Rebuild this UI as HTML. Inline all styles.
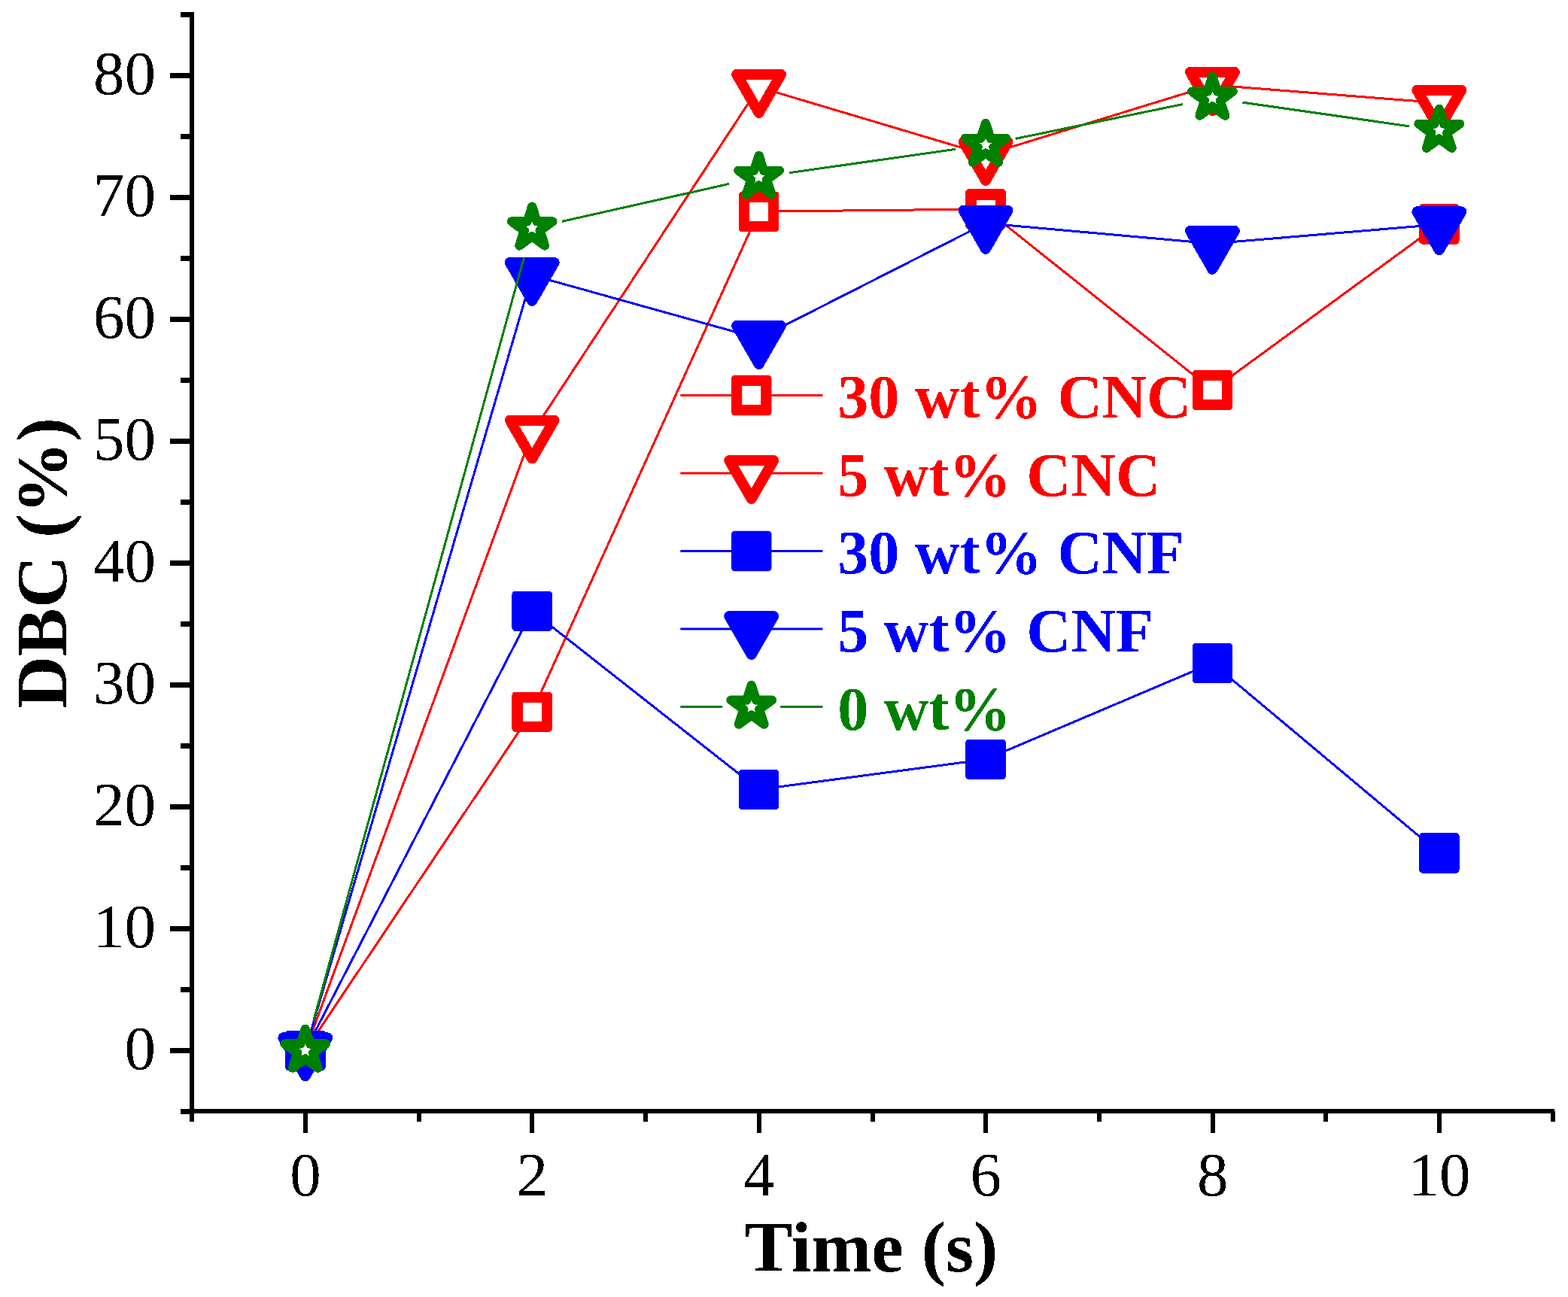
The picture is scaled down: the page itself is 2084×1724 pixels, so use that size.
<!DOCTYPE html>
<html><head><meta charset="utf-8"><title>DBC vs Time</title>
<style>html,body{margin:0;padding:0;background:#fff;}svg{display:block;}
text{font-family:"Liberation Serif","Times New Roman",serif;}</style></head>
<body>
<svg width="2084" height="1724" viewBox="0 0 2084 1724">
<defs><filter id="bin" x="-5%" y="-5%" width="110%" height="110%" color-interpolation-filters="sRGB"><feComponentTransfer><feFuncA type="discrete" tableValues="0 1"/></feComponentTransfer></filter></defs>
<rect width="2084" height="1724" fill="#fff"/>
<g font-size="82.2" font-weight="bold" filter="url(#bin)"><text x="1113.2" y="554.9" fill="#ff0000">30 wt% CNC</text><text x="1113.2" y="658.6" fill="#ff0000">5 wt% CNC</text><text x="1113.2" y="762.3" fill="#0000ff">30 wt% CNF</text><text x="1113.2" y="866" fill="#0000ff">5 wt% CNF</text><text x="1113.2" y="969.7" fill="#008000">0 wt%</text></g>
<g><line x1="904.3" y1="525.5" x2="1093.4" y2="525.5" stroke="#ff0000" stroke-width="3"/><rect x="971.95" y="498.75" width="53.5" height="53.5" rx="4.5" fill="#ff0000"/><rect x="986.2" y="513" width="25" height="25" fill="#fff"/><line x1="904.3" y1="629" x2="1093.4" y2="629" stroke="#ff0000" stroke-width="3"/><path d="M969.26 612 L1028.14 612 L998.7 663Z" fill="#fff" stroke="#ff0000" stroke-width="14" stroke-linejoin="round"/><line x1="904.3" y1="732.5" x2="1093.4" y2="732.5" stroke="#0000ff" stroke-width="3"/><rect x="971.95" y="705.75" width="53.5" height="53.5" rx="4.5" fill="#0000ff"/><line x1="904.3" y1="836" x2="1093.4" y2="836" stroke="#0000ff" stroke-width="3"/><path d="M969.26 819 L1028.14 819 L998.7 870Z" fill="#0000ff" stroke="#0000ff" stroke-width="14" stroke-linejoin="round"/><line x1="904.3" y1="939.5" x2="960.2" y2="939.5" stroke="#008000" stroke-width="3"/><line x1="1037.2" y1="939.5" x2="1093.4" y2="939.5" stroke="#008000" stroke-width="3"/><path d="M998.7 910.8 L1005.14 930.63 L1026 930.63 L1009.13 942.89 L1015.57 962.72 L998.7 950.46 L981.83 962.72 L988.27 942.89 L971.4 930.63 L992.26 930.63Z" fill="#fff" stroke="#008000" stroke-width="12.2" stroke-linejoin="round"/></g>
<g shape-rendering="crispEdges"><polyline points="405.8,1396.3 707.2,946.3 1008.6,281.2 1310,278 1611.4,518.5 1912.8,297.9" fill="none" stroke="#ff0000" stroke-width="3" stroke-linejoin="round"/><rect x="379.05" y="1369.55" width="53.5" height="53.5" rx="4.5" fill="#ff0000"/><rect x="393.3" y="1383.8" width="25" height="25" fill="#fff"/><rect x="680.45" y="919.55" width="53.5" height="53.5" rx="4.5" fill="#ff0000"/><rect x="694.7" y="933.8" width="25" height="25" fill="#fff"/><rect x="981.85" y="254.45" width="53.5" height="53.5" rx="4.5" fill="#ff0000"/><rect x="996.1" y="268.7" width="25" height="25" fill="#fff"/><rect x="1283.25" y="251.25" width="53.5" height="53.5" rx="4.5" fill="#ff0000"/><rect x="1297.5" y="265.5" width="25" height="25" fill="#fff"/><rect x="1584.65" y="491.75" width="53.5" height="53.5" rx="4.5" fill="#ff0000"/><rect x="1598.9" y="506" width="25" height="25" fill="#fff"/><rect x="1886.05" y="271.15" width="53.5" height="53.5" rx="4.5" fill="#ff0000"/><rect x="1900.3" y="285.4" width="25" height="25" fill="#fff"/><polyline points="405.8,1396.3 707.2,575.5 1008.6,115.9 1310,205.8 1611.4,112.9 1912.8,136.8" fill="none" stroke="#ff0000" stroke-width="3" stroke-linejoin="round"/><path d="M376.36 1379.3 L435.24 1379.3 L405.8 1430.3Z" fill="#fff" stroke="#ff0000" stroke-width="14" stroke-linejoin="round"/><path d="M677.76 558.5 L736.64 558.5 L707.2 609.5Z" fill="#fff" stroke="#ff0000" stroke-width="14" stroke-linejoin="round"/><path d="M979.16 98.9 L1038.04 98.9 L1008.6 149.9Z" fill="#fff" stroke="#ff0000" stroke-width="14" stroke-linejoin="round"/><path d="M1280.56 188.8 L1339.44 188.8 L1310 239.8Z" fill="#fff" stroke="#ff0000" stroke-width="14" stroke-linejoin="round"/><path d="M1581.96 95.9 L1640.84 95.9 L1611.4 146.9Z" fill="#fff" stroke="#ff0000" stroke-width="14" stroke-linejoin="round"/><path d="M1883.36 119.8 L1942.24 119.8 L1912.8 170.8Z" fill="#fff" stroke="#ff0000" stroke-width="14" stroke-linejoin="round"/><polyline points="405.8,1396.3 707.2,812.3 1008.6,1049.4 1310,1009.4 1611.4,881.4 1912.8,1133.9" fill="none" stroke="#0000ff" stroke-width="3" stroke-linejoin="round"/><rect x="379.05" y="1369.55" width="53.5" height="53.5" rx="4.5" fill="#0000ff"/><rect x="680.45" y="785.55" width="53.5" height="53.5" rx="4.5" fill="#0000ff"/><rect x="981.85" y="1022.65" width="53.5" height="53.5" rx="4.5" fill="#0000ff"/><rect x="1283.25" y="982.65" width="53.5" height="53.5" rx="4.5" fill="#0000ff"/><rect x="1584.65" y="854.65" width="53.5" height="53.5" rx="4.5" fill="#0000ff"/><rect x="1886.05" y="1107.15" width="53.5" height="53.5" rx="4.5" fill="#0000ff"/><polyline points="405.8,1396.3 707.2,365.9 1008.6,449.9 1310,296.75 1611.4,323.8 1912.8,298.3" fill="none" stroke="#0000ff" stroke-width="3" stroke-linejoin="round"/><path d="M376.36 1379.3 L435.24 1379.3 L405.8 1430.3Z" fill="#0000ff" stroke="#0000ff" stroke-width="14" stroke-linejoin="round"/><path d="M677.76 348.9 L736.64 348.9 L707.2 399.9Z" fill="#0000ff" stroke="#0000ff" stroke-width="14" stroke-linejoin="round"/><path d="M979.16 432.9 L1038.04 432.9 L1008.6 483.9Z" fill="#0000ff" stroke="#0000ff" stroke-width="14" stroke-linejoin="round"/><path d="M1280.56 279.75 L1339.44 279.75 L1310 330.75Z" fill="#0000ff" stroke="#0000ff" stroke-width="14" stroke-linejoin="round"/><path d="M1581.96 306.8 L1640.84 306.8 L1611.4 357.8Z" fill="#0000ff" stroke="#0000ff" stroke-width="14" stroke-linejoin="round"/><path d="M1883.36 281.3 L1942.24 281.3 L1912.8 332.3Z" fill="#0000ff" stroke="#0000ff" stroke-width="14" stroke-linejoin="round"/><line x1="416.57" y1="1357.36" x2="696.43" y2="342.34" stroke="#008000" stroke-width="3"/><line x1="746.71" y1="294.41" x2="969.09" y2="244.39" stroke="#008000" stroke-width="3"/><line x1="1048.7" y1="229.79" x2="1269.9" y2="198.31" stroke="#008000" stroke-width="3"/><line x1="1349.66" y1="184.41" x2="1571.74" y2="138.59" stroke="#008000" stroke-width="3"/><line x1="1651.49" y1="136.13" x2="1872.71" y2="167.77" stroke="#008000" stroke-width="3"/><path d="M405.8 1367.7 L412.24 1387.53 L433.1 1387.53 L416.23 1399.79 L422.67 1419.62 L405.8 1407.36 L388.93 1419.62 L395.37 1399.79 L378.5 1387.53 L399.36 1387.53Z" fill="#fff" stroke="#008000" stroke-width="12.2" stroke-linejoin="round"/><path d="M707.2 274.6 L713.64 294.43 L734.5 294.43 L717.63 306.69 L724.07 326.52 L707.2 314.26 L690.33 326.52 L696.77 306.69 L679.9 294.43 L700.76 294.43Z" fill="#fff" stroke="#008000" stroke-width="12.2" stroke-linejoin="round"/><path d="M1008.6 206.8 L1015.04 226.63 L1035.9 226.63 L1019.03 238.89 L1025.47 258.72 L1008.6 246.46 L991.73 258.72 L998.17 238.89 L981.3 226.63 L1002.16 226.63Z" fill="#fff" stroke="#008000" stroke-width="12.2" stroke-linejoin="round"/><path d="M1310 163.9 L1316.44 183.73 L1337.3 183.73 L1320.43 195.99 L1326.87 215.82 L1310 203.56 L1293.13 215.82 L1299.57 195.99 L1282.7 183.73 L1303.56 183.73Z" fill="#fff" stroke="#008000" stroke-width="12.2" stroke-linejoin="round"/><path d="M1611.4 101.7 L1617.84 121.53 L1638.7 121.53 L1621.83 133.79 L1628.27 153.62 L1611.4 141.36 L1594.53 153.62 L1600.97 133.79 L1584.1 121.53 L1604.96 121.53Z" fill="#fff" stroke="#008000" stroke-width="12.2" stroke-linejoin="round"/><path d="M1912.8 144.8 L1919.24 164.63 L1940.1 164.63 L1923.23 176.89 L1929.67 196.72 L1912.8 184.46 L1895.93 196.72 L1902.37 176.89 L1885.5 164.63 L1906.36 164.63Z" fill="#fff" stroke="#008000" stroke-width="12.2" stroke-linejoin="round"/></g>
<g shape-rendering="crispEdges"><line x1="255" y1="16" x2="255" y2="1491" stroke="#000" stroke-width="6"/><line x1="252" y1="1477" x2="2066" y2="1477" stroke="#000" stroke-width="6"/><line x1="226" y1="1396.5" x2="255" y2="1396.5" stroke="#000" stroke-width="6.8"/><line x1="226" y1="1234.5" x2="255" y2="1234.5" stroke="#000" stroke-width="6.8"/><line x1="226" y1="1072.5" x2="255" y2="1072.5" stroke="#000" stroke-width="6.8"/><line x1="226" y1="910.5" x2="255" y2="910.5" stroke="#000" stroke-width="6.8"/><line x1="226" y1="748.5" x2="255" y2="748.5" stroke="#000" stroke-width="6.8"/><line x1="226" y1="586.5" x2="255" y2="586.5" stroke="#000" stroke-width="6.8"/><line x1="226" y1="424.5" x2="255" y2="424.5" stroke="#000" stroke-width="6.8"/><line x1="226" y1="262.5" x2="255" y2="262.5" stroke="#000" stroke-width="6.8"/><line x1="226" y1="100.5" x2="255" y2="100.5" stroke="#000" stroke-width="6.8"/><line x1="240" y1="1477.5" x2="255" y2="1477.5" stroke="#000" stroke-width="6.8"/><line x1="240" y1="1315.5" x2="255" y2="1315.5" stroke="#000" stroke-width="6.8"/><line x1="240" y1="1153.5" x2="255" y2="1153.5" stroke="#000" stroke-width="6.8"/><line x1="240" y1="991.5" x2="255" y2="991.5" stroke="#000" stroke-width="6.8"/><line x1="240" y1="829.5" x2="255" y2="829.5" stroke="#000" stroke-width="6.8"/><line x1="240" y1="667.5" x2="255" y2="667.5" stroke="#000" stroke-width="6.8"/><line x1="240" y1="505.5" x2="255" y2="505.5" stroke="#000" stroke-width="6.8"/><line x1="240" y1="343.5" x2="255" y2="343.5" stroke="#000" stroke-width="6.8"/><line x1="240" y1="181.5" x2="255" y2="181.5" stroke="#000" stroke-width="6.8"/><line x1="240" y1="19.5" x2="255" y2="19.5" stroke="#000" stroke-width="6.8"/><line x1="406" y1="1477" x2="406" y2="1506" stroke="#000" stroke-width="6"/><line x1="707.4" y1="1477" x2="707.4" y2="1506" stroke="#000" stroke-width="6"/><line x1="1008.8" y1="1477" x2="1008.8" y2="1506" stroke="#000" stroke-width="6"/><line x1="1310.2" y1="1477" x2="1310.2" y2="1506" stroke="#000" stroke-width="6"/><line x1="1611.6" y1="1477" x2="1611.6" y2="1506" stroke="#000" stroke-width="6"/><line x1="1913" y1="1477" x2="1913" y2="1506" stroke="#000" stroke-width="6"/><line x1="255.3" y1="1477" x2="255.3" y2="1491" stroke="#000" stroke-width="6"/><line x1="556.7" y1="1477" x2="556.7" y2="1491" stroke="#000" stroke-width="6"/><line x1="858.1" y1="1477" x2="858.1" y2="1491" stroke="#000" stroke-width="6"/><line x1="1159.5" y1="1477" x2="1159.5" y2="1491" stroke="#000" stroke-width="6"/><line x1="1460.9" y1="1477" x2="1460.9" y2="1491" stroke="#000" stroke-width="6"/><line x1="1762.3" y1="1477" x2="1762.3" y2="1491" stroke="#000" stroke-width="6"/><line x1="2063.7" y1="1477" x2="2063.7" y2="1491" stroke="#000" stroke-width="6"/></g>
<g font-size="83" fill="#000" filter="url(#bin)"><text x="207" y="1421.3" text-anchor="end">0</text><text x="207" y="1259.3" text-anchor="end">10</text><text x="207" y="1097.3" text-anchor="end">20</text><text x="207" y="935.3" text-anchor="end">30</text><text x="207" y="773.3" text-anchor="end">40</text><text x="207" y="611.3" text-anchor="end">50</text><text x="207" y="449.3" text-anchor="end">60</text><text x="207" y="287.3" text-anchor="end">70</text><text x="207" y="125.3" text-anchor="end">80</text><text x="406.1" y="1589" text-anchor="middle">0</text><text x="707.5" y="1589" text-anchor="middle">2</text><text x="1008.9" y="1589" text-anchor="middle">4</text><text x="1310.3" y="1589" text-anchor="middle">6</text><text x="1611.7" y="1589" text-anchor="middle">8</text><text x="1913.1" y="1589" text-anchor="middle">10</text></g>
<g fill="#000" filter="url(#bin)"><text x="0" y="0" transform="translate(88.1 941.6) rotate(-90)" font-weight="bold" font-size="96">DBC (%)</text><text x="989.3" y="1689.5" font-weight="bold" font-size="96">Time (s)</text></g>
</svg>
</body></html>
